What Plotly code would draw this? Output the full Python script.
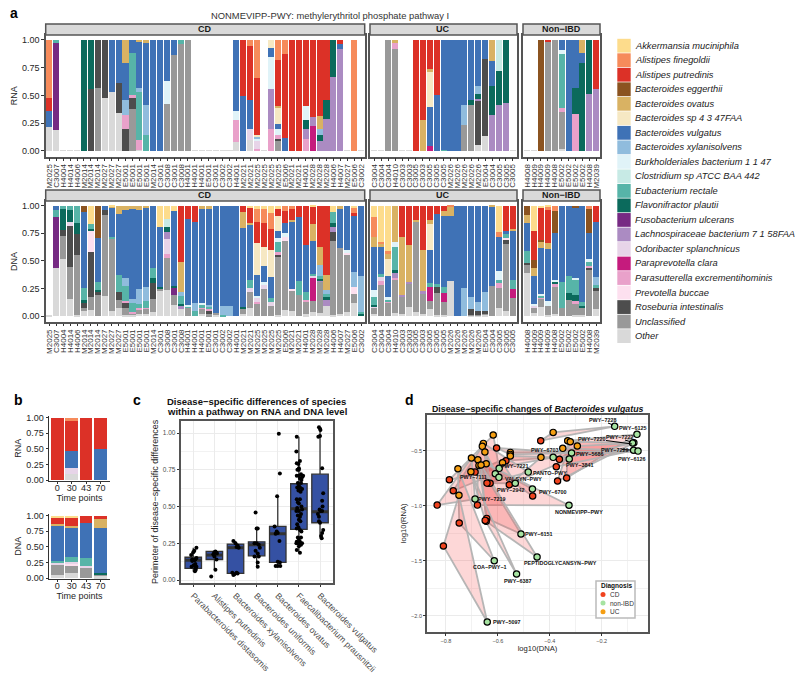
import plotly.graph_objects as go

W, H = 800, 680
FONT = "Liberation Sans"
INK = "#262626"

species = [("Ak", "Akkermansia muciniphila", "#FDDC8C"), ("Af", "Alistipes finegoldii", "#F68B5B"),
           ("Ap", "Alistipes putredinis", "#DC3127"), ("Be", "Bacteroides eggerthii", "#8B5320"),
           ("Bo", "Bacteroides ovatus", "#D9B263"), ("Bs", "Bacteroides sp 4 3 47FAA", "#F6E8C3"),
           ("Bv", "Bacteroides vulgatus", "#3F72B6"), ("Bx", "Bacteroides xylanisolvens", "#90BCDD"),
           ("Bb", "Burkholderiales bacterium 1 1 47", "#E0F3F8"), ("Cs", "Clostridium sp ATCC BAA 442", "#C7EAE5"),
           ("Er", "Eubacterium rectale", "#57B4A8"), ("Fp", "Flavonifractor plautii", "#0B6A5C"),
           ("Fu", "Fusobacterium ulcerans", "#762A83"), ("La", "Lachnospiraceae bacterium 7 1 58FAA", "#AB8BC2"),
           ("Os", "Odoribacter splanchnicus", "#E7D4E8"), ("Pc", "Paraprevotella clara", "#C51B7D"),
           ("Pe", "Parasutterella excrementihominis", "#E9A1CA"), ("Pb", "Prevotella buccae", "#FDE0EF"),
           ("Ri", "Roseburia intestinalis", "#4D4D4D"), ("Un", "Unclassified", "#999999"), ("Ot", "Other", "#D9D9D9")]

labels_cd = ["M2025", "C3007", "H4004", "H4014", "H4006", "M2014", "M2014", "M2014", "M2027", "M2027", "M2027",
             "E5001", "E5001", "E5001", "E5001", "M2014", "C3001", "C3008", "C3001", "C3008", "H4001", "H4001",
             "H4001", "E5001", "C3001", "C3002", "C3002", "H4001", "M2021", "M2021", "M2025", "M2025", "M2025",
             "M2025", "E5006", "M2021", "M2021", "H4001", "M2028", "M2028", "M2028", "H4006", "H4007", "M2027",
             "E5006", "C3002"]
labels_uc = ["C3004", "C3004", "C3004", "H4010", "C3003", "C3003", "C3005", "C3003", "C3005", "C3005", "C3005",
             "M2026", "M2026", "M2026", "M2026", "M2026", "E5004", "C3004", "C3005", "C3005", "C3005"]
labels_non = ["H4008", "H4009", "H4009", "H4009", "H4008", "E5002", "E5002", "E5002", "E5002", "H4008", "M2039"]

# each bar: upper edge of each species band, read from bottom to top
B = dict
rna_cd = [B(Ot=.21, Bv=.355, Ap=.475, Af=1), B(Ot=.185, Fu=.97, Er=1), B(), B(), B(), B(Fp=1), B(Ri=.56, Fp=1),
          B(Un=.57, Ri=1), B(Ot=.48, Ri=1), B(Ot=.53, Bv=1), B(Ot=.345, Ri=.615, Bv=1),
          B(Ri=.2, Pe=.32, Bx=.46, Bv=.79, Bo=1), B(Un=.38, Ri=.48, Pe=.5, Er=.88, Bv=1),
          B(Ot=.01, Pe=.1, Er=.53, Bx=.565, Bv=.99, Bo=1), B(Er=.14, Bx=.41, Bv=.97, Bo=1), B(Bv=1), B(Bv=1),
          B(Un=.42, Bb=.63, Bv=1), B(Un=.86, Bv=1), B(Un=.96, Er=1), B(Un=1), B(), B(), B(), B(), B(), B(),
          B(Ot=.08, Pe=.28, Bb=.36, Bv=1), B(Bv=.49, Ap=1), B(Ot=.1, Os=.2, Bv=.46, Ap=.95, Af=1),
          B(Pe=.02, Os=.095, Bb=.11, Bx=.12, Bs=.14, Ap=.66, Af=1), B(), B(Pe=.2, La=.56, Bb=.85, Bv=.925, Bs=1),
          B(Un=.09, Ri=.11, Pe=.145, Bb=.2, Bv=.245, Bs=.385, Bo=.405, Ap=.815, Af=1), B(Bv=.115, Ap=.87, Af=1),
          B(Ap=1), B(Ap=1), B(Pe=.11, La=.195, Fp=.28, Bb=.405, Ap=1), B(Pc=.22, La=.305, Ap=1),
          B(La=.085, Fp=.145, Bx=.2, Bo=.315, Ap=1), B(La=.285, Fp=.46, Ap=1), B(La=.665, Fp=1),
          B(La=.915, Bv=.96, Ap=1), B(), B(Af=1), B()]
rna_uc = [B(), B(), B(Un=1), B(Un=.92, Pe=.97, Bo=1), B(), B(), B(Ap=1), B(Bo=.28, Ap=1),
          B(Pc=.04, Bv=.395, Bs=.71, Bo=.735, Ap=1), B(Bv=.5, Ap=1), B(Er=.01, Bv=1), B(Bv=1), B(Bv=1),
          B(Un=.23, Bx=.415, Bv=1), B(Un=.415, Fp=.46, Bv=1), B(Ot=.05, Ri=.45, La=.47, Fp=.51, Bx=.58, Bv=1),
          B(Ot=.13, Ri=.83, Bv=1), B(La=.32, Fp=.58, Bv=.81, Bo=1), B(La=.41, Fp=.72, Cs=1), B(La=.43, Fp=1), B()]
rna_non = [B(), B(), B(Be=1), B(Un=.99, Ap=1), B(Un=1), B(Ot=.02, Un=.35, Pe=.39, Er=.87, Bb=.91, Bv=1), B(Bv=1),
           B(Pe=.33, Fp=.57, Bv=1), B(Fp=.79, Bv=.88, Bo=1), B(La=.51, Fp=1), B(La=.56, Ap=1)]
dna_cd = [B(), B(Ot=.44, Fu=.9, Er=.965, Bv=1), B(Ot=.52, Un=.73, Ri=.78, Fp=.97, Er=1),
          B(Ot=.155, Un=.445, Ri=.82, Os=.85, Fp=.96, Er=1), B(Ot=.01, Un=.55, Ri=.74, Fp=.84, Er=1),
          B(Ot=.05, Un=.075, Ri=.12, Fp=.145, Er=.255, Bv=.94, Be=1),
          B(Ot=.055, Un=.175, Ri=.58, Pb=.77, Fp=.79, Er=.83, Ak=1),
          B(Un=.19, Ri=.22, Fp=.235, Er=.31, Bv=.705, Be=1), B(Ot=.185, Un=.92, Ri=.96, Bv=1),
          B(Ot=.045, Un=.695, Er=.72, Bv=.98, Bo=.995, Ak=1), B(Ot=.07, Un=.15, Ri=.22, Er=.37, Bv=.925, Bo=1),
          B(Ot=.01, Un=.07, Ri=.12, Pe=.135, Er=.27, Bx=.345, Bv=.96, Bo=1),
          B(Ot=.01, Un=.025, Pe=.035, Er=.115, Bx=.155, Bv=.97, Bo=1),
          B(Ot=.02, Un=.06, Pe=.07, Er=.11, Bx=.245, Bv=.96, Bo=1),
          B(Ot=.02, Un=.07, Pe=.075, Er=.135, Bx=.26, Bv=.98, Bo=1),
          B(Ot=.04, Un=.155, Ri=.3, Fp=.345, Er=.44, Bv=1), B(Ot=.235, Un=.25, Fp=.265, Bv=.81, Ak=1),
          B(Ot=.24, Un=.53, Pe=.565, Os=.695, La=.765, Fp=.81, Cs=.88, Ak=1),
          B(Ot=.1, Un=.195, Fu=.255, Fp=.27, Bv=.95, Ak=1), B(Ot=.06, La=.095, Fp=.11, Er=.18, Bx=.22, Bo=.49, Ap=1),
          B(Un=.07, Er=.09, Bb=.1, Bv=.88, Ap=1), B(Er=.05, Bx=.12, Bv=.855, Ap=1),
          B(Ot=.02, Un=.065, Pe=.075, Er=.1, Bb=.12, Bv=.975, Bo=1),
          B(Un=.015, Ri=.05, Pe=.06, Er=.08, Bx=.1, Bv=.975, Bo=1), B(Ot=.01, Un=.03, Bv=1), B(Er=.01, Bx=.09, Bv=1),
          B(Bx=.09, Bv=1), B(Bv=1), B(Ot=.02, Un=.07, Fp=.085, Bv=.795, Bo=.94, Ap=1),
          B(Ot=.075, Un=.215, Os=.255, Er=.33, Bv=.83, Bo=.845, Ap=.985, Ak=1),
          B(Un=.115, Pe=.13, Os=.17, Bb=.18, Bv=.37, Bs=.66, Ap=.855, Af=.97, Ak=1),
          B(Un=.245, Os=.29, Bb=.305, Bv=.455, Bs=.625, Ap=.84, Af=.97, Ak=1),
          B(Un=.09, Os=.13, Er=.16, Bv=.35, Bs=.6, Ap=.79, Af=.93, Ak=1),
          B(Ot=.01, Un=.54, Ri=.555, Pe=.585, Er=.67, Bb=.71, Bv=.77, Bs=.905, Ap=.975, Ak=1),
          B(Ot=.055, Un=.68, Pb=.72, Bb=.75, Bv=.84, Ap=.955, Af=1),
          B(Ot=.05, Un=.225, Pb=.245, Bv=.85, Bo=.87, Ap=.97, Af=1), B(Un=.19, Er=.32, Bv=.895, Ap=1),
          B(Ot=.015, Un=.125, Pe=.15, Er=.22, Bv=.64, Ap=1),
          B(Ot=.04, Un=.14, Pc=.345, Os=.36, Er=.385, Bv=.68, Bo=.83, Ap=.99, Ak=1),
          B(Ot=.03, Un=.31, La=.325, Fp=.34, Er=.365, Bx=.465, Bo=.625, Ap=1),
          B(Ot=.09, La=.145, Fp=.17, Er=.2, Bx=.24, Bo=.37, Ap=1),
          B(Ot=.01, Un=.68, Ri=.765, La=.81, Fp=.84, Er=.945, Ak=1), B(Ot=.02, Un=.615, Bv=.97, Bo=1),
          B(Ot=.035, Un=.56, Pb=.575, Bb=.6, Bv=1),
          B(Ot=.12, Un=.2, Pb=.26, Bx=.4, Bv=.915, Ap=.93, Af=.985, Ak=1), B(Fp=.02, Er=.035, Bx=.36, Bv=1)]
dna_uc = [B(Ot=.02, Un=.07, Os=.09, Fp=.1, Er=.175, Bb=.24, Bv=.625, Bo=.715, Af=.9, Ak=1),
          B(Un=.28, Pe=.32, Os=.35, Er=.385, Bv=.63, Bo=.65, Af=.67, Ak=1),
          B(Un=.12, Pe=.135, Er=.15, Bb=.17, Bv=.36, Bs=.515, Bo=.56, Af=.59, Ak=1),
          B(Ot=.03, Un=.33, Pe=.345, La=.39, Fp=.42, Er=.625, Bb=.67, Bo=1),
          B(Ot=.02, Un=.18, La=.195, Bo=.72, Ap=1), B(Ot=.08, Un=.29, La=.31, Bo=.64, Ap=1),
          B(Ot=.04, Un=.86, Bo=.87, Ap=1), B(Ot=.02, Un=.2, La=.225, Bo=.6, Ap=1),
          B(Ot=.06, Un=.14, Pc=.265, Er=.3, Bv=.6, Bs=.83, Bo=.87, Ap=1), B(Ot=.01, Un=.21, Ri=.26, Er=.295, Bv=.925, Ap=1),
          B(Ot=.01, Un=.13, Pc=.21, Er=.26, Bv=.91, Bo=.95, Ap=1), B(Ot=.32, Bv=.91, Bo=.99, Af=1), B(Bv=1),
          B(Bx=.25, Bv=1), B(Ot=.005, Un=.01, Ri=.06, Bx=.175, Bv=1), B(Ot=.005, Un=.01, Ri=.05, Bx=.13, Bv=1),
          B(Ot=.01, Un=.02, Ri=.045, Bx=.215, Bv=1), B(Un=.27, Bv=.99, Bo=1),
          B(Ot=.07, Un=.25, Pe=.3, Er=.325, Bb=.405, Bv=.72, Af=.76, Ak=1),
          B(Ot=.05, Un=.65, Ri=.69, Pb=.71, Er=.74, Bv=.77, Ap=1), B(Un=.16, Pc=.245, Er=.325, Bv=.775, Bo=.79, Ap=1)]
dna_non = [B(Ot=.39, Un=.47, Ri=.485, Er=.59, Bv=.84, Bo=.915, Be=1),
           B(Ot=.03, Un=.08, Os=.095, Bb=.11, Bv=.36, Bo=.44, Be=.51, Ap=.77, Ak=1),
           B(Ot=.08, Un=.155, Pe=.17, Er=.18, Bb=.2, Bv=.62, Bo=.675, Be=.69, Ap=.98, Ak=1),
           B(Ot=.01, Un=.09, Bb=.14, Bv=.605, Bo=.66, Ap=.96, Af=.99, Ak=1),
           B(Ot=.02, Un=.26, Pe=.29, Fp=.31, Bb=.33, Bv=.75, Be=.95, Af=1), B(Un=.075, Er=.31, Bv=1),
           B(Un=.15, Fp=.21, Er=.36, Bv=1), B(Ot=.01, Un=.11, Pe=.14, Fp=.195, Er=.325, Bb=.345, Bv=.985, Be=1),
           B(Ot=.01, Un=.07, Fp=.09, Er=.125, Bv=1), B(Un=.42, Ri=.44, Pe=.45, Er=.49, Bb=.515, Bv=.75, Be=.975, Af=1),
           B(Ot=.06, Un=.235, Ri=.25, Er=.285, Bx=.35, Bv=.85, Ap=1)]

time_points = ["0", "30", "43", "70"]
rna_time = [B(Ap=1), B(Ot=.1, Os=.2, Bv=.46, Ap=.945, Af=1), B(Ap=1), B(Bv=.49, Ap=1)]
dna_time = [B(Ot=.05, Un=.23, Os=.25, Er=.27, Bv=.85, Bo=.87, Ap=.975, Ak=1),
            B(Ot=.08, Un=.21, Os=.25, Pb=.26, Er=.33, Bv=.82, Bo=.835, Ap=.985, Ak=1),
            B(Un=.17, Os=.2, Er=.32, Bv=.89, Ap=1), B(Ot=.03, Un=.07, Fp=.085, Bv=.795, Bo=.94, Ap=1)]

box_names = ["Parabacteroides distasomis", "Alistipes putredinis", "Bacteroides xylanisolvens", "Bacteroides uniformis",
             "Bacteroides ovatus", "Faecalibacterium prausnitzii", "Bacteroides vulgatus"]
box_q1 = [.08, .14, .045, .165, .12, .345, .39]
box_median = [.135, .17, .22, .24, .315, .485, .465]
box_q3 = [.155, .195, .245, .26, .365, .655, .72]
box_low = [.06, .07, .035, .09, .095, .185, .285]
box_high = [.22, .2, .265, .35, .57, .975, 1.03]
jitter_points = [(1.15, .22), (1.05, .2), (.9, .17), (1, .19), (1.1, .14), (.95, .14), (1.05, .135), (1.1, .11), (1.15, .09),
                 (1.1, .08), (1.12, .07), (1.08, .06), (.95, .13), (1.02, .1), (.92, .09), (1.15, .15),
                 (2, .19), (2.05, .195), (2.1, .185), (1.95, .175), (2, .16), (2.1, .14), (2.05, .07), (1.85, .025), (2.12, .18),
                 (2.9, .265), (3, .25), (3.1, .235), (3.15, .22), (3.05, .225), (2.85, .05), (2.95, .04), (3.05, .05), (3.1, .045), (2.9, .035),
                 (3.95, .46), (4, .35), (4.05, .35), (3.9, .25), (4, .25), (4.1, .24), (4.15, .22), (3.95, .2), (4.05, .18), (4.1, .16), (3.9, .16), (4.05, .12), (4.05, .09),
                 (5.05, .995), (5.1, .725), (4.97, .57), (4.85, .365), (4.95, .33), (4.9, .315), (5, .32), (5.08, .265), (5, .125), (5.1, .12), (4.9, .095), (5, .095), (5.12, .095),
                 (5.9, .975), (5.88, .875), (6.05, .81), (5.9, .795), (5.98, .79), (6, .76), (5.93, .75), (6, .75), (5.9, .71), (6, .71), (6.1, .72), (6.15, .7), (6.2, .71),
                 (6.05, .69), (6.12, .68), (5.95, .66), (6.1, .66), (6, .64), (5.92, .63), (6.05, .63), (6.15, .62), (5.98, .61), (6.08, .6), (5.9, .55), (6.05, .55), (5.95, .53),
                 (6, .52), (5.92, .49), (6.12, .5), (6, .47), (5.88, .47), (6.1, .45), (6.15, .48), (5.95, .44), (6.05, .43), (6, .41), (6.07, .4), (5.92, .38), (5.98, .36), (5.9, .35),
                 (6.05, .34), (6.12, .33), (6.1, .29), (5.95, .29), (6, .28), (6.05, .26), (5.9, .26), (5.98, .25), (6.15, .25), (5.88, .25), (6.1, .24), (5.9, .205), (6.05, .185), (6, .23),
                 (6.95, 1.04), (7, 1.03), (7.02, 1.02), (6.92, .975), (7, .98), (7.1, .76), (7.15, .59), (7.1, .54), (7.12, .5), (6.98, .48), (7.02, .47), (6.9, .45), (6.95, .43), (7.1, .47),
                 (6.95, .4), (7, .39), (7.15, .34), (7.1, .32), (7.05, .3), (7.08, .285)]

pathways = ["PWY-7228", "PWY-6125", "PWY-7222", "PWY-7220", "PWY-7229", "PWY-6126", "PWY-5686", "PWY-3841", "PWY-6703",
            "PWY-7221", "PANTO-PWY", "PWY-7111", "VALSYN-PWY", "PWY-2942", "PWY-6700", "PWY-7219", "NONMEVIPP-PWY",
            "PWY-6151", "PEPTIDOGLYCANSYN-PWY", "COA-PWY-1", "PWY-6387", "PWY-5097"]
non_dna = [-.15, -.064, -.076, -.081, -.077, -.06, -.316, -.325, -.387, -.595, -.483, -.61, -.596, -.533, -.467, -.688, -.326, -.511, -.449, -.614, -.528, -.641]
non_rna = [-.278, -.351, -.428, -.43, -.496, -.503, -.521, -.575, -.56, -.66, -.694, -.709, -.742, -.796, -.848, -.939, -.996, -1.257, -1.466, -1.5, -1.621, -2.057]
cd_dna = [-.435, -.335, -.37, -.363, -.375, -.569, -.605, -.556, -.688, -.787, -.637, -.772, -.63, -.642, -.466, -.834, -.679, -.643, -.645, -.749, -.649, -.81]
cd_rna = [-.409, -.748, -.775, -.578, -.645, -.591, -.475, -.809, -.694, -.764, -.796, -.864, -.796, -.794, -.912, -.994, -.994, -1.115, -1.142, -1.157, -1.133, -1.366]
uc_dna = [-.387, -.331, -.321, -.294, -.35, -.552, -.552, -.434, -.552, -.618, -.656, -.66, -.65, -.582, -.645, -.702, -.677, -.673, -.665, -.754, -.704, -.75]
uc_rna = [-.333, -.409, -.418, -.457, -.478, -.515, -.533, -.56, -.548, -.357, -.433, -.46, -.512, -.609, -.618, -.566, -.582, -.633, -.63, -.664, -.691, -.905]

DIAG = [("CD", "#F0431E"), ("non-IBD", "#A6E3A1"), ("UC", "#F59E12")]

fig = go.Figure()
annotations, shapes = [], []


def px(x): return x / W
def py(y): return 1 - y / H


def text(x, y, s, size=9, color=INK, anchor="center", bold=False, italic=False, angle=0):
    if bold: s = f"<b>{s}</b>"
    if italic: s = f"<i>{s}</i>"
    annotations.append(dict(x=px(x), y=py(y), xref="paper", yref="paper", text=s, showarrow=False, xanchor=anchor,
                            yanchor="middle", textangle=angle, font=dict(size=size, color=color, family=FONT)))


def axes_names(n):
    s = "" if n == 1 else str(n)
    return "x" + s, "y" + s, "xaxis" + s, "yaxis" + s


def bars(n, rows, xs):
    xn, yn, _, _ = axes_names(n)
    for code, name, color in reversed(species):
        heights = []
        for row in rows:
            keys = list(row)
            if code in row:
                i = keys.index(code)
                heights.append(row[code] - (row[keys[i - 1]] if i else 0))
            else:
                heights.append(0)
        if code == "Ot":
            heights = [h if row else .004 for h, row in zip(heights, rows)]
        if any(heights):
            fig.add_trace(go.Bar(x=xs, y=heights, name=name, marker=dict(color=color, line_width=0), xaxis=xn, yaxis=yn,
                                 showlegend=False))


def panel_axes(n, x0, x1, y0, y1, xr, yr, **kw):
    _, yn, xk, yk = axes_names(n)
    xn = axes_names(n)[0]
    base = dict(showgrid=False, zeroline=False, showline=True, linecolor="#555555", linewidth=1.5, mirror=True,
                ticks="outside", ticklen=2.5, tickwidth=.8, tickcolor="#333333", automargin=False)
    xa = dict(base, domain=[px(x0), px(x1)], range=xr, anchor=yn)
    ya = dict(base, domain=[py(y1), py(y0)], range=yr, anchor=xn)
    xa.update(kw.get("x", {}))
    ya.update(kw.get("y", {}))
    fig.update_layout({xk: xa, yk: ya})


SP = 6.93
facets = [("CD", 45.7, 364.7, 49.3, labels_cd, rna_cd, dna_cd), ("UC", 370, 517, 374.3, labels_uc, rna_uc, dna_uc),
          ("Non-IBD", 523, 600, 527, labels_non, rna_non, dna_non)]
n = 0
yticks = dict(tickvals=[0, .25, .5, .75, 1], ticktext=["0.00", "0.25", "0.50", "0.75", "1.00"],
              tickfont=dict(size=9, color=INK, family=FONT))
for row_i, (title, top, strip, bot, yr) in enumerate([("RNA", 35, 24, 156.7, [-.054, 1.045]), ("DNA", 201, 190, 322, [-.054, 1.043])]):
    for f_i, (fname, x0, x1, c0, labs, r, d) in enumerate(facets):
        n += 1
        xs = list(range(len(labs)))
        bars(n, r if row_i == 0 else d, xs)
        ya = dict(yticks) if f_i == 0 else dict(showticklabels=False, ticks="")
        if f_i == 0:
            ya.update(title=dict(text=title, standoff=3, font=dict(size=9, color=INK, family=FONT)))
        panel_axes(n, x0, x1, top, bot, [(x0 - c0) / SP, (x1 - c0) / SP], yr,
                   x=dict(tickvals=xs, ticktext=labs, tickangle=-90, tickfont=dict(size=8, color="#333333", family=FONT)),
                   y=ya)
        shapes.append(dict(type="rect", xref="paper", yref="paper", x0=px(x0), x1=px(x1), y0=py(top), y1=py(strip),
                           fillcolor="#D9D9D9", line=dict(color="#555555", width=1.5)))
        text((x0 + x1) / 2, (top + strip) / 2, fname.replace("-", "−"), size=9, bold=True, color="#1a1a1a")

# panel b
for n_b, rows, ylab, top, bot in [(7, rna_time, "RNA", 415.5, 481), (8, dna_time, "DNA", 513.5, 579)]:
    bars(n_b, rows, time_points)
    unit = 62.3
    panel_axes(n_b, 49, 110, top, bot, [-.58, 3.66], [-1 / unit, 1 + 2.2 / unit],
               x=dict(type="category", mirror=False, linecolor="#333333", linewidth=1, ticklen=1.5, ticklabelstandoff=-3,
                      tickfont=dict(size=9, color=INK, family=FONT),
                      title=dict(text="Time points", standoff=1, font=dict(size=9, color=INK, family=FONT))),
               y=dict(yticks, mirror=False, linecolor="#333333", linewidth=1, title=dict(text=ylab, standoff=3, font=dict(size=9, color=INK, family=FONT))))

# panel c
fig.add_trace(go.Box(x=list(range(1, 8)), q1=box_q1, median=box_median, q3=box_q3, lowerfence=box_low, upperfence=box_high,
                     fillcolor="#3551A3", line=dict(color="#333333", width=1.3), width=.78, boxpoints=False,
                     xaxis="x9", yaxis="y9", showlegend=False, whiskerwidth=0))
for i, m in enumerate(box_median):
    fig.add_trace(go.Scatter(x=[i + 1 - .39, i + 1 + .39], y=[m, m], mode="lines", line=dict(color="#333333", width=3),
                             xaxis="x9", yaxis="y9", showlegend=False, hoverinfo="skip"))
fig.add_trace(go.Scatter(x=[p[0] for p in jitter_points], y=[p[1] for p in jitter_points], mode="markers",
                         marker=dict(color="black", size=4), xaxis="x9", yaxis="y9", showlegend=False))
GRID = "#EBEBEB"
panel_axes(9, 181, 332.7, 420.7, 583, [.42, 7.6], [-.02, 1.084],
           x=dict(tickvals=list(range(1, 8)), ticktext=box_names, tickangle=45, showgrid=True, gridcolor=GRID, gridwidth=1.3,
                  tickfont=dict(size=8.7, color="#4D4D4D", family=FONT)),
           y=dict(tickvals=[0, .25, .5, .75, 1], ticktext=["0.00", "0.25", "0.50", "0.75", "1.00"], showgrid=True, gridcolor=GRID,
                  gridwidth=1.3, minor=dict(showgrid=True, gridcolor="#F2F2F2", gridwidth=.7, tickvals=[.125, .375, .625, .875]),
                  tickfont=dict(size=6.5, color="#4D4D4D", family=FONT),
                  title=dict(text="Perimeter of disease−specific differences", standoff=3, font=dict(size=9, color=INK, family=FONT))))
text(256.7, 401, "Disease−specific differences of species", size=9.5, bold=True, color="#111111")
text(256.7, 411.5, "within a pathway on RNA and DNA level", size=9.5, bold=True, color="#111111")

# panel d
for i, name in enumerate(pathways):
    fig.add_trace(go.Scatter(x=[non_dna[i], cd_dna[i], uc_dna[i], non_dna[i]], y=[non_rna[i], cd_rna[i], uc_rna[i], non_rna[i]],
                             mode="lines", fill="toself", fillcolor="rgba(244,72,72,0.22)",
                             line=dict(color="rgba(178,178,178,0.95)", width=1.8), xaxis="x10", yaxis="y10",
                             showlegend=False, name=name))
for (lab, col), xv, yv in zip(DIAG, [cd_dna, non_dna, uc_dna], [cd_rna, non_rna, uc_rna]):
    fig.add_trace(go.Scatter(x=xv, y=yv, mode="markers", marker=dict(color=col, size=6.3, line=dict(color="black", width=1.2)),
                             xaxis="x10", yaxis="y10", showlegend=False, name=lab, text=pathways))
panel_axes(10, 427.3, 647.7, 415, 631.7, [-.872, -.0227], [-2.145, -.175],
           x=dict(tickvals=[-.8, -.6, -.4, -.2], ticktext=["−0.8", "−0.6", "−0.4", "−0.2"], showgrid=True, gridcolor="#EBEBEB", gridwidth=1.3,
                  tickfont=dict(size=5.5, color="#4D4D4D", family=FONT),
                  minor=dict(showgrid=True, gridcolor="#F2F2F2", gridwidth=.7, tickvals=[-.7, -.5, -.3, -.1]),
                  title=dict(text="log10(DNA)", standoff=3, font=dict(size=7.6, color=INK, family=FONT))),
           y=dict(tickvals=[-2, -1.5, -1, -.5], ticktext=["−2.0", "−1.5", "−1.0", "−0.5"], showgrid=True, gridcolor="#EBEBEB", gridwidth=1.3,
                  tickfont=dict(size=5.5, color="#4D4D4D", family=FONT),
                  minor=dict(showgrid=True, gridcolor="#F2F2F2", gridwidth=.7, tickvals=[-1.75, -1.25, -.75, -.25]),
                  title=dict(text="log10(RNA)", standoff=3, font=dict(size=7.6, color=INK, family=FONT))))
text(538, 408.5, "Disease−specific changes of <i>Bacteroides vulgatus</i>", size=8.8, bold=True, color="#111111")
d_labels = [(602.7, 420.3, "PWY-7228"), (632.3, 428.3, "PWY-6125"), (619.3, 437, "PWY-7222"), (591.3, 438.7, "PWY-7220"), (614, 450, "PWY-7229"),
            (631.7, 459, "PWY-6126"), (589, 454.3, "PWY-5686"), (579, 465.3, "PWY-3841"), (544, 449.7, "PWY-6703"), (514.7, 466, "PWY-7221"),
            (550, 472.7, "PANTO-PWY"), (473.7, 476.7, "PWY-7111"), (523.3, 479, "VALSYN-PWY"), (510.3, 490, "PWY-2942"), (552.3, 491.7, "PWY-6700"),
            (491.7, 499.3, "PWY-7219"), (579, 511.7, "NONMEVIPP-PWY"), (538.3, 534.3, "PWY-6151"), (560.7, 563.3, "PEPTIDOGLYCANSYN-PWY"),
            (490, 566.7, "COA-PWY-1"), (517.3, 580.7, "PWY-6387"), (506.7, 622, "PWY-5097")]
for x, y, s in d_labels:
    text(x, y, s.replace("-", "−"), size=5.4, bold=True, color="#111111")
for x0, y0, x1, y1 in [(608, 423, 613, 425), (606, 440.5, 632, 444), (625, 440, 631, 442), (622, 449.5, 631, 450)]:
    shapes.append(dict(type="line", xref="paper", yref="paper", x0=px(x0), y0=py(y0), x1=px(x1), y1=py(y1), line=dict(color="black", width=1)))

# d legend
shapes.append(dict(type="rect", xref="paper", yref="paper", x0=px(596), x1=px(635), y0=py(581), y1=py(618), fillcolor="white",
                   line=dict(color="#BBBBBB", width=1.5)))
text(599, 586, "Diagnosis", size=6.5, bold=True, anchor="left", color="#111111")
for i, (lab, col) in enumerate(DIAG):
    yy = 594.5 + i * 8.6
    shapes.append(dict(type="circle", xref="paper", yref="paper", x0=px(600.5), x1=px(605.5), y0=py(yy + 2.5), y1=py(yy - 2.5),
                       fillcolor=col, line_width=0))
    text(608, yy, lab, size=6.5, anchor="left", color="#333333")

# a legend
for i, (code, name, color) in enumerate(species):
    yy = 45.7 + i * 14.52
    shapes.append(dict(type="rect", xref="paper", yref="paper", x0=px(617.3), x1=px(630.7), y0=py(yy + 6.9), y1=py(yy - 6.9),
                       fillcolor=color, line_width=0))
    text(633.3, yy, name, size=9.3, anchor="left", italic=True, color="#222222")

text(330, 15, "NONMEVIPP-PWY: methylerythritol phosphate pathway I", size=9.4, color="#333333")
for x, y, s in [(14, 12.5, "a"), (18, 400, "b"), (137, 400, "c"), (409, 400, "d")]:
    text(x, y, s, size=14, bold=True, color="black")

fig.update_layout(template="none", width=W, height=H, margin=dict(l=0, r=0, t=0, b=0, autoexpand=False), paper_bgcolor="white",
                  plot_bgcolor="white", barmode="stack", bargap=.12, showlegend=False, annotations=annotations, shapes=shapes,
                  font=dict(family=FONT))
fig.write_html("out.html", config=dict(displayModeBar=False), post_script="document.body.style.margin='0';")
